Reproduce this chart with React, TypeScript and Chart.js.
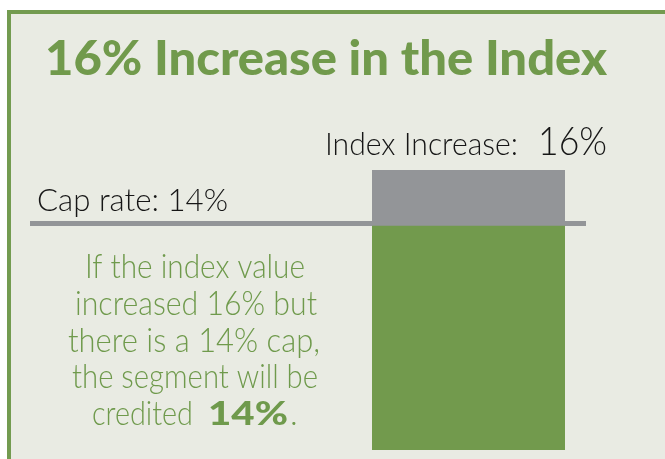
import React, { useEffect, useRef } from "react";
import { Chart, registerables } from "chart.js";

Chart.register(...registerables);

// ---- data ----
const categories = ["Index"];
const creditedValues = [14]; // credited portion (capped)
const excessValues = [2]; // index increase above the cap
const capRate = [14];
const indexIncrease = [16];
const titleText = "16% Increase in the Index";
const indexLabel = "Index Increase:";
const capLabel = "Cap rate:";
const noteLines = ["If the index value", "increased 16% but", "there is a 14% cap,", "the segment will be"];
const noteLastParts = ["credited", "14%", "."];

const GREEN = "#729a4d";
const GRAY = "#939598";
const BG = "#e9ebe3";
const INK = "#161616";
const LIGHT = "300";

function fitText(
  ctx: CanvasRenderingContext2D,
  text: string,
  x: number,
  y: number,
  width: number,
  font: string,
  color: string
) {
  ctx.save();
  ctx.font = font;
  const w = ctx.measureText(text).width || 1;
  ctx.translate(x, y);
  ctx.scale(width / w, 1);
  ctx.fillStyle = color;
  ctx.textAlign = "left";
  ctx.textBaseline = "alphabetic";
  ctx.fillText(text, 0, 0);
  ctx.restore();
}

const framePlugin = {
  id: "frame",
  beforeDraw(chart: any) {
    const ctx: CanvasRenderingContext2D = chart.ctx;
    const W = chart.width;
    const H = chart.height;
    ctx.save();
    ctx.fillStyle = "#ffffff";
    ctx.fillRect(0, 0, W, H);
    ctx.fillStyle = BG;
    ctx.fillRect(7, 10, W - 7, H - 10);
    ctx.fillStyle = "#739b50";
    ctx.fillRect(7, 10, W - 7, 4);
    ctx.fillRect(7, 10, 4, H - 10);
    ctx.restore();
  },
  beforeDatasetsDraw(chart: any) {
    const ctx: CanvasRenderingContext2D = chart.ctx;
    const y = chart.scales.y.getPixelForValue(capRate[0]);
    ctx.save();
    ctx.fillStyle = GRAY;
    ctx.fillRect(30, y - 5, 556, 5);
    ctx.restore();
  },
  afterDraw(chart: any) {
    const ctx: CanvasRenderingContext2D = chart.ctx;
    fitText(ctx, titleText, 45, 75, 562, "900 47px Lato", "#719a4c");
    fitText(ctx, indexLabel, 325, 155, 193, LIGHT + " 32px Lato", INK);
    fitText(ctx, indexIncrease[0] + "%", 538, 155, 69, LIGHT + " 40px Lato", INK);
    fitText(ctx, capLabel + " " + capRate[0] + "%", 37, 211, 191, LIGHT + " 32px Lato", INK);
    const lx = [85, 75, 68, 72];
    const lw = [220, 242, 252, 246];
    const lb = [278, 315, 352, 388];
    noteLines.forEach((t, i) => fitText(ctx, t, lx[i], lb[i], lw[i], LIGHT + " 33px Lato", "#6f9a4c"));
    fitText(ctx, noteLastParts[0], 92, 425, 101, LIGHT + " 33px Lato", "#6f9a4c");
    fitText(ctx, noteLastParts[1], 208, 425, 80, "900 33px Lato", "#6f9a4c");
    ctx.save();
    ctx.font = LIGHT + " 33px Lato";
    ctx.fillStyle = "#6f9a4c";
    ctx.fillText(noteLastParts[2], 290, 425);
    ctx.restore();
  },
};

export default function App() {
  const ref = useRef<HTMLCanvasElement | null>(null);
  useEffect(() => {
    if (!ref.current) return;
    const chart = new Chart(ref.current, {
      type: "bar",
      data: {
        labels: categories,
        datasets: [
          {
            label: "Credited",
            data: creditedValues,
            backgroundColor: GREEN,
            borderWidth: 0,
            barPercentage: 1,
            categoryPercentage: 1,
          },
          {
            label: "Excess",
            data: excessValues,
            backgroundColor: GRAY,
            borderWidth: 0,
            barPercentage: 1,
            categoryPercentage: 1,
          },
        ],
      },
      options: {
        responsive: false,
        animation: false,
        layout: { padding: { left: 372, right: 100, top: 170, bottom: 9 } },
        plugins: { legend: { display: false }, tooltip: { enabled: false }, title: { display: false } },
        scales: {
          x: { display: false, stacked: true },
          y: { display: false, stacked: true, min: 6, max: 16 },
        },
      },
      plugins: [framePlugin],
    });
    return () => chart.destroy();
  }, []);
  return (
    <div style={{ position: "fixed", left: 0, top: 0, width: 665, height: 459 }}>
      <canvas ref={ref} width={665} height={459} style={{ display: "block" }} />
    </div>
  );
}
